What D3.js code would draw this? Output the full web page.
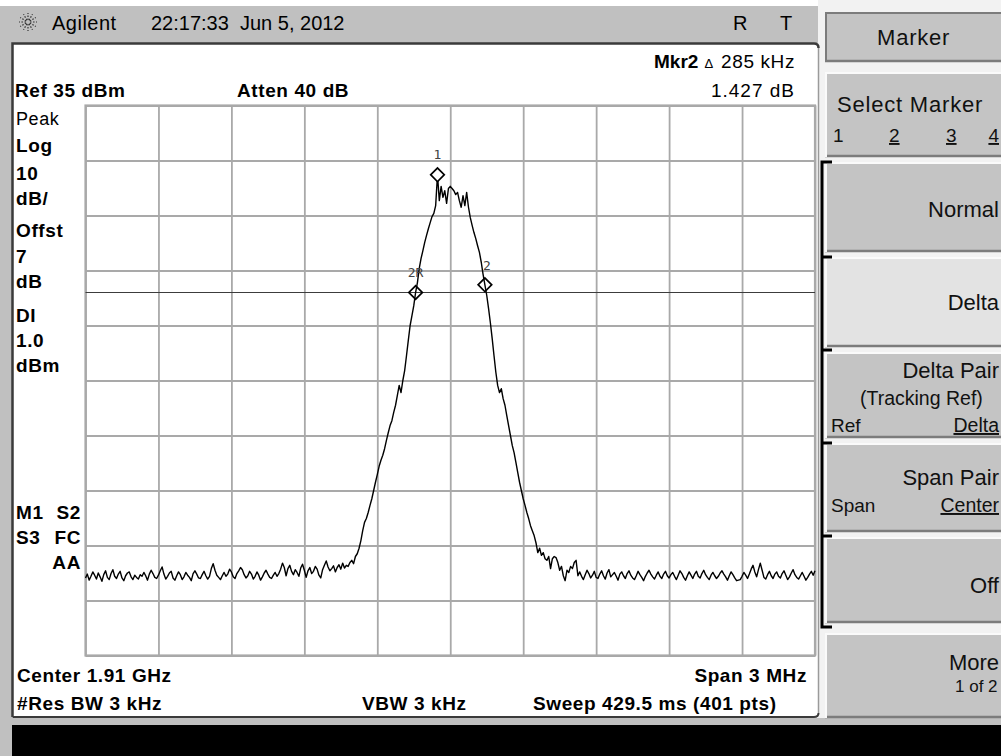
<!DOCTYPE html>
<html>
<head>
<meta charset="utf-8">
<script src="https://cdn.jsdelivr.net/npm/d3@7"></script>
<style>
  body { margin: 0; background: #fff; }
  svg text { font-family: "Liberation Sans", Arial, sans-serif; fill: #000; }
</style>
</head>
<body>
<svg id="chart"></svg>
<script>
// trace in dBm, 401 sweep points
// noise floor left of the carrier (points 0-142)
const noiseLow = [
  -50.9,-50.2,-51.3,-50.6,-49.8,-50.4,-51.1,-50.0,-50.7,-51.5,
  -50.3,-49.6,-50.8,-51.2,-50.1,-49.4,-50.6,-51.0,-50.2,-49.7,
  -50.9,-51.4,-50.5,-50.0,-49.8,-50.7,-51.2,-50.4,-50.8,-51.1,
  -50.3,-50.6,-49.9,-50.5,-51.3,-50.2,-49.5,-50.1,-50.8,-51.0,
  -50.4,-49.6,-48.9,-50.2,-51.1,-50.6,-50.0,-49.7,-50.9,-51.3,
  -50.5,-49.8,-50.3,-51.2,-50.7,-49.9,-50.4,-50.8,-51.4,-50.1,
  -49.6,-50.2,-50.9,-51.0,-50.3,-49.7,-50.5,-51.1,-50.6,-49.2,
  -48.3,-49.5,-50.4,-50.8,-51.2,-50.5,-49.9,-50.6,-50.2,-49.3,
  -49.8,-50.7,-51.0,-50.1,-49.6,-49.0,-49.4,-50.3,-50.9,-50.5,
  -49.7,-50.2,-51.1,-50.6,-49.8,-50.4,-51.3,-50.7,-50.0,-49.5,
  -50.2,-50.8,-51.0,-50.4,-49.9,-50.6,-50.1,-49.3,-48.2,-49.0,
  -50.5,-49.2,-48.6,-49.7,-50.3,-49.4,-49.9,-50.6,-49.1,-48.4,
  -49.5,-50.8,-49.6,-49.0,-50.1,-49.7,-48.8,-49.3,-50.4,-50.9,
  -49.4,-48.6,-47.8,-48.9,-49.6,-49.2,-48.7,-49.8,-49.0,-48.5,
  -49.3,-48.2,-49.1
];
// the carrier (points 143-270)
const carrier = [
  -48.6,-48.8,-48.1,-47.7,-48.3,-47.0,-46.5,-45.5,-44.1,-42.3,
  -40.8,-40.1,-39.0,-37.7,-36.5,-35.0,-33.5,-32.1,-30.6,-29.5,
  -28.6,-27.4,-25.9,-24.5,-23.2,-22.3,-20.8,-19.5,-17.7,-15.9,
  -17.2,-15.0,-13.2,-10.5,-7.7,-5.0,-3.2,-1.4,1.0,2.8,
  5.4,7.2,8.6,10.1,11.4,12.6,13.7,14.8,15.4,16.8,
  22.4,17.7,20.3,18.3,19.5,17.2,19.9,20.3,19.9,19.5,
  18.8,19.2,17.7,16.5,18.6,16.8,19.2,16.5,14.6,13.2,
  11.9,10.8,9.5,8.3,6.5,4.3,2.4,0.5,-1.9,-4.5,
  -7.4,-10.5,-13.5,-15.9,-17.2,-16.5,-18.3,-19.5,-21.4,-23.2,
  -25.0,-26.8,-28.1,-29.9,-31.7,-33.5,-35.0,-36.5,-37.7,-39.0,
  -40.1,-41.4,-42.3,-43.2,-44.5,-46.3,-45.5,-46.8,-46.3,-47.4,
  -47.7,-47.0,-49.2,-47.4,-47.0,-47.2,-48.1,-49.5,-48.8,-50.5,
  -51.4,-49.5,-49.9,-48.8,-49.2,-48.1,-47.7,-50.5
];
// noise floor right of the carrier (points 271-400)
const noiseHigh = [
  -49.8,-50.6,-51.2,-50.3,-49.5,-50.1,-50.9,-50.4,-49.7,-50.8,
  -51.0,-50.2,-49.6,-50.5,-51.1,-50.0,-49.4,-50.7,-50.3,-49.9,
  -50.6,-51.3,-50.2,-49.8,-50.5,-51.0,-50.1,-49.6,-50.4,-50.9,
  -51.2,-50.5,-49.7,-50.3,-50.8,-51.4,-50.6,-50.0,-49.5,-50.2,
  -50.7,-51.1,-50.4,-49.8,-50.6,-51.0,-50.2,-49.7,-50.5,-50.9,
  -50.3,-49.9,-50.6,-51.2,-50.4,-49.6,-50.1,-50.8,-51.3,-50.5,
  -49.8,-50.4,-51.0,-50.2,-49.7,-50.6,-50.9,-50.1,-49.5,-50.3,
  -50.8,-51.2,-50.4,-49.9,-50.5,-51.0,-50.6,-50.0,-49.6,-50.2,
  -50.7,-51.3,-50.5,-49.8,-50.3,-50.9,-51.4,-51.3,-51.2,-50.6,
  -49.9,-50.4,-51.0,-50.2,-49.3,-48.6,-49.8,-50.7,-49.4,-48.2,
  -49.5,-50.8,-51.1,-50.3,-49.7,-50.5,-51.0,-50.2,-49.8,-50.6,
  -50.9,-50.1,-49.6,-50.4,-51.2,-50.7,-50.0,-49.4,-50.3,-50.8,
  -51.1,-50.5,-49.9,-50.6,-51.3,-50.8,-50.2,-49.7,-50.4,-49.6
];
const trace = noiseLow.concat(carrier, noiseHigh);

const markerNames = ["1", "2R", "2"];
const markerIdx = [193, 181, 219];

const refLevel = 35;      // dBm
const dbPerDiv = 10;
const divs = 10;
const displayLine = 1.0;  // dBm
const centerMHz = 1910;
const spanMHz = 3;

const scaleLabels = ["Peak", "Log", "10", "dB/", "Offst", "7", "dB", "DI", "1.0", "dBm"];
const statusLabels = [["M1", "S2"], ["S3", "FC"], ["", "AA"]];

// layout constants
const W = 1001, H = 756;
const gx0 = 85.5, gx1 = 815, gy0 = 105.5, gy1 = 655.5;

const svg = d3.select("#chart").attr("width", W).attr("height", H);

// scales
const x = d3.scaleLinear()
  .domain([centerMHz - spanMHz / 2, centerMHz + spanMHz / 2])
  .range([gx0, gx1]);
const y = d3.scaleLinear()
  .domain([refLevel - dbPerDiv * divs, refLevel])
  .range([gy1, gy0]);
const freq = i => x.domain()[0] + i * spanMHz / (trace.length - 1);

// frame of the instrument screen
svg.append("rect").attr("width", W).attr("height", H).attr("fill", "#fff");
svg.append("rect").attr("x", 0).attr("y", 6).attr("width", 818).attr("height", 37).attr("fill", "#c0c0c0");
svg.append("rect").attr("x", 0).attr("y", 6).attr("width", 12).attr("height", H - 6).attr("fill", "#c0c0c0");
svg.append("rect").attr("x", 818).attr("y", 0).attr("width", W - 818).attr("height", 725).attr("fill", "#f2f2f2");
svg.append("rect").attr("x", 12).attr("y", 718).attr("width", W - 12).attr("height", 7).attr("fill", "#c0c0c0");
svg.append("rect").attr("x", 12).attr("y", 725).attr("width", W - 12).attr("height", H - 725).attr("fill", "#000");

svg.append("path")
  .attr("d", "M12.5,717 V43.5 H814 Q818.5,43.5 818.5,48")
  .attr("fill", "none").attr("stroke", "#3a3a3a").attr("stroke-width", 2.5);
svg.append("path")
  .attr("d", "M12.5,717 H814 Q818.5,717 818.5,713")
  .attr("fill", "none").attr("stroke", "#3a3a3a").attr("stroke-width", 2);
svg.append("line").attr("x1", 818.5).attr("x2", 818.5).attr("y1", 48).attr("y2", 713)
  .attr("stroke", "#9a9a9a").attr("stroke-width", 1.5);

// title bar
const logo = svg.append("g").attr("transform", "translate(28,22)");
d3.range(12).forEach(k => {
  const a = k * Math.PI / 6;
  logo.append("line")
    .attr("x1", 2 * Math.cos(a)).attr("y1", 2 * Math.sin(a))
    .attr("x2", 9 * Math.cos(a)).attr("y2", 9 * Math.sin(a))
    .attr("stroke", "#333").attr("stroke-width", 1.2).attr("stroke-dasharray", "1.6,1.4");
});
svg.append("text").attr("x", 52).attr("y", 30).style("font-size", "20px").style("letter-spacing", "0.5px").text("Agilent");
svg.append("text").attr("x", 151).attr("y", 30).style("font-size", "20px").attr("xml:space", "preserve").text("22:17:33  Jun 5, 2012");
svg.append("text").attr("x", 733).attr("y", 30).style("font-size", "20px").text("R");
svg.append("text").attr("x", 780).attr("y", 30).style("font-size", "20px").text("T");

// header readouts
const bold = sel => sel.style("font-size", "19px").style("font-weight", "bold").style("letter-spacing", "0.6px");
bold(svg.append("text").attr("x", 15).attr("y", 97)).text("Ref 35 dBm");
bold(svg.append("text").attr("x", 237).attr("y", 97)).text("Atten 40 dB");
const mkr = svg.append("text").attr("x", 795).attr("y", 68).attr("text-anchor", "end").style("font-size", "19px");
mkr.append("tspan").style("font-weight", "bold").text("Mkr2");
mkr.append("tspan").style("font-size", "13px").attr("dx", 6).text("\u0394");
mkr.append("tspan").attr("dx", 8).style("letter-spacing", "0.6px").text("285 kHz");
svg.append("text").attr("x", 795).attr("y", 97).attr("text-anchor", "end")
  .style("font-size", "19px").style("letter-spacing", "1px").text("1.427 dB");

// left scale annotations
const labelY = [125, 152, 180, 205, 237, 263, 288, 322, 347, 372];
scaleLabels.forEach((t, k) => {
  const el = svg.append("text").attr("x", 16).attr("y", labelY[k]).text(t);
  if (k === 0) el.style("font-size", "18px").style("letter-spacing", "0.6px");
  else bold(el);
});
statusLabels.forEach((row, k) => {
  const yy = 519 + k * 25;
  bold(svg.append("text").attr("x", 16).attr("y", yy)).text(row[0]);
  bold(svg.append("text").attr("x", 81).attr("y", yy).attr("text-anchor", "end")).text(row[1]);
});

// footer readouts
bold(svg.append("text").attr("x", 17).attr("y", 682)).text("Center 1.91 GHz");
bold(svg.append("text").attr("x", 17).attr("y", 710)).text("#Res BW 3 kHz");
bold(svg.append("text").attr("x", 362).attr("y", 710)).text("VBW 3 kHz");
bold(svg.append("text").attr("x", 807).attr("y", 682).attr("text-anchor", "end")).text("Span 3 MHz");
bold(svg.append("text").attr("x", 533).attr("y", 710)).text("Sweep 429.5 ms (401 pts)");

// graticule
const gridColor = "#a9a9a9";
const xTicks = d3.range(divs + 1).map(k => x.domain()[0] + k * spanMHz / divs);
const yTicks = d3.range(divs + 1).map(k => y.domain()[0] + k * dbPerDiv);

svg.append("g")
  .attr("transform", `translate(0,${gy1})`)
  .call(d3.axisBottom(x).tickValues(xTicks).tickSize(-(gy1 - gy0)).tickFormat(""))
  .call(g => g.select(".domain").remove())
  .selectAll("line").attr("stroke", gridColor).attr("stroke-width", 1.8);

svg.append("g")
  .attr("transform", `translate(${gx0},0)`)
  .call(d3.axisLeft(y).tickValues(yTicks).tickSize(-(gx1 - gx0)).tickFormat(""))
  .call(g => g.select(".domain").remove())
  .selectAll("line").attr("stroke", gridColor).attr("stroke-width", 1.8);

svg.append("rect")
  .attr("x", gx0).attr("y", gy0).attr("width", gx1 - gx0).attr("height", gy1 - gy0)
  .attr("fill", "none").attr("stroke", gridColor).attr("stroke-width", 2.2);

// display line
svg.append("line")
  .attr("x1", gx0).attr("x2", gx1)
  .attr("y1", y(displayLine)).attr("y2", y(displayLine))
  .attr("stroke", "#3c3c3c").attr("stroke-width", 1.2);

// trace
const line = d3.line()
  .x((d, i) => x(freq(i)))
  .y(d => y(d));

svg.append("path")
  .datum(trace)
  .attr("d", line)
  .attr("fill", "none")
  .attr("stroke", "#000")
  .attr("stroke-width", 1.4)
  .attr("stroke-linejoin", "round");

// markers
const diamond = d3.symbol(d3.symbolSquare, 92);
markerIdx.forEach((idx, k) => {
  const mx = x(freq(idx));
  const my = y(trace[idx]);
  svg.append("path")
    .attr("d", diamond())
    .attr("transform", `translate(${mx},${my}) rotate(45)`)
    .attr("fill", k === 0 ? "#fff" : "none")
    .attr("stroke", "#000")
    .attr("stroke-width", 1.7);
  svg.append("text")
    .attr("x", mx + (k === 2 ? 2 : 0))
    .attr("y", my - (k === 2 ? 15 : 16))
    .attr("text-anchor", "middle")
    .style("font-family", "'DejaVu Sans Mono', monospace")
    .style("font-size", "13px")
    .style("fill", "#444")
    .text(markerNames[k]);
});

// soft-key menu
const keyX = 825;
const keys = [
  { y0: 12, y1: 62, fill: "#c4c4c4" },
  { y0: 72, y1: 157, fill: "#c4c4c4" },
  { y0: 162, y1: 252, fill: "#c4c4c4" },
  { y0: 257, y1: 347, fill: "#e3e3e3" },
  { y0: 352, y1: 438, fill: "#c4c4c4" },
  { y0: 443, y1: 532, fill: "#c4c4c4" },
  { y0: 537, y1: 623, fill: "#c4c4c4" },
  { y0: 633, y1: 718, fill: "#c4c4c4" }
];
keys.forEach((kk, k) => {
  svg.append("rect").attr("x", keyX).attr("y", kk.y0).attr("width", W - keyX + 5).attr("height", kk.y1 - kk.y0)
    .attr("fill", kk.fill);
  svg.append("line").attr("x1", keyX).attr("x2", W).attr("y1", kk.y1 - 1).attr("y2", kk.y1 - 1)
    .attr("stroke", "#7c7c7c").attr("stroke-width", 2.5);
  svg.append("line").attr("x1", keyX + 1).attr("x2", keyX + 1).attr("y1", kk.y0).attr("y2", kk.y1)
    .attr("stroke", k === 0 ? "#7c7c7c" : "#fafafa").attr("stroke-width", 2);
  svg.append("line").attr("x1", keyX).attr("x2", W).attr("y1", kk.y0 + 1).attr("y2", kk.y0 + 1)
    .attr("stroke", k === 0 ? "#7c7c7c" : "#fafafa").attr("stroke-width", 2);
});

// bracket grouping the marker modes
svg.append("path")
  .attr("d", "M832,162 H822 V627 H832 M822,257 H832 M822,350 H832 M822,443 H832 M822,536 H832")
  .attr("fill", "none").attr("stroke", "#000").attr("stroke-width", 3);

// soft-key labels; the ones that run into the screen edge are right-aligned to it
const edge = 999;
const menuText = (tx, ty, t, size, opts = {}) => {
  const el = svg.append("text").attr("x", tx).attr("y", ty).style("font-size", size + "px")
    .style("fill", "#111").text(t);
  if (opts.underline) el.style("text-decoration", "underline");
  if (opts.end) el.attr("text-anchor", "end");
  if (opts.ls) el.style("letter-spacing", opts.ls + "px");
  return el;
};
menuText(877, 45, "Marker", 22, { ls: 0.8 });
menuText(837, 112, "Select Marker", 22, { ls: 0.8 });
menuText(833, 142, "1", 19);
menuText(889, 142, "2", 19, { underline: true });
menuText(946, 142, "3", 19, { underline: true });
menuText(edge, 142, "4", 19, { underline: true, end: true });
menuText(edge, 217, "Normal", 22, { end: true });
menuText(edge, 310, "Delta", 22, { end: true });
menuText(edge, 378, "Delta Pair", 22, { end: true });
menuText(860, 405, "(Tracking Ref)", 19.5);
menuText(831, 432, "Ref", 19);
menuText(edge, 432, "Delta", 19.5, { underline: true, end: true });
menuText(edge, 485, "Span Pair", 22, { end: true });
menuText(831, 512, "Span", 19);
menuText(edge, 512, "Center", 19.5, { underline: true, end: true });
menuText(edge, 593, "Off", 22, { end: true });
menuText(edge, 670, "More", 22, { end: true });
menuText(955, 692, "1 of 2", 17);
</script>
</body>
</html>
